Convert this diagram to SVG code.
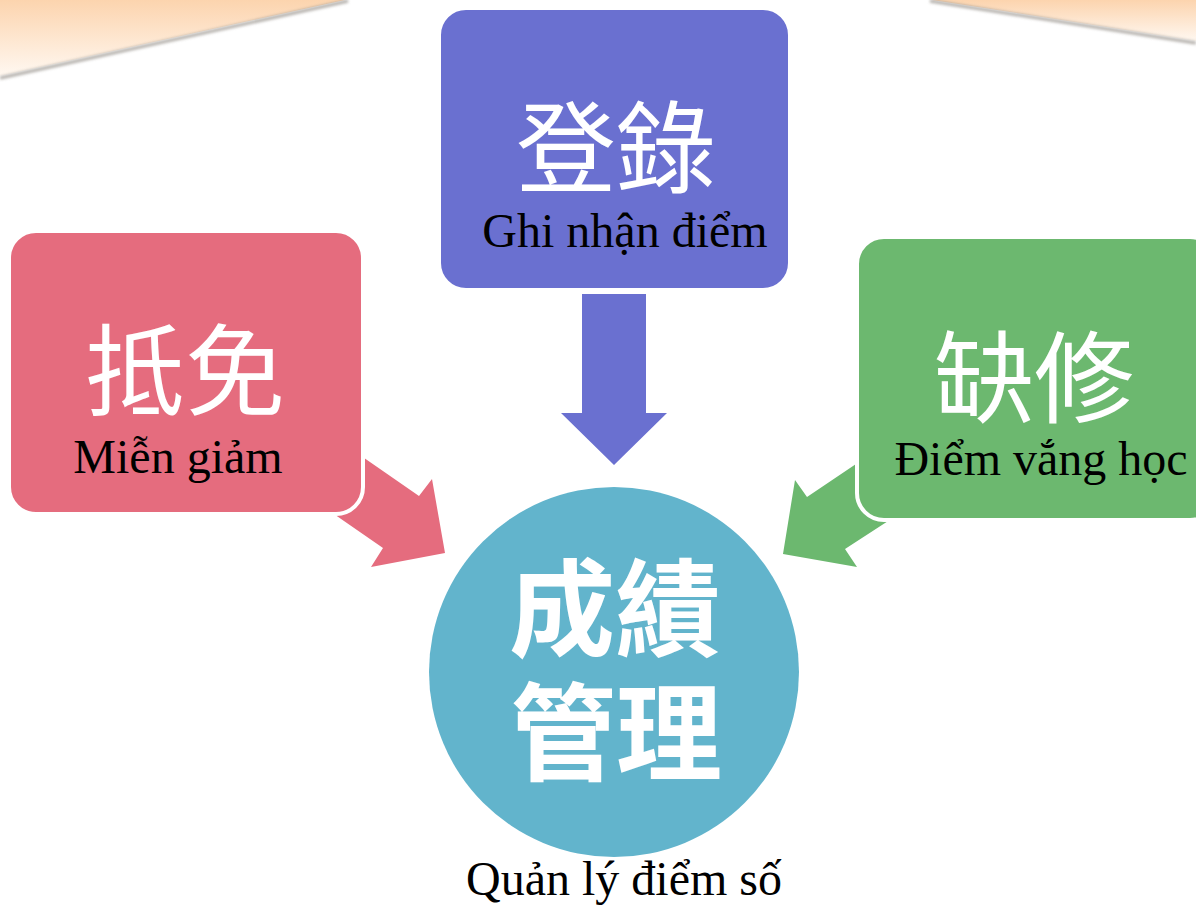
<svg xmlns="http://www.w3.org/2000/svg" width="1196" height="906" viewBox="0 0 1196 906">
  <defs>
    <linearGradient id="bgGrad" x1="0" y1="0" x2="0" y2="1">
      <stop offset="0" stop-color="#FCD4AE"/>
      <stop offset="1" stop-color="#FFF8F1"/>
    </linearGradient>
    <filter id="blur" x="-10%" y="-50%" width="120%" height="200%">
      <feGaussianBlur stdDeviation="1.6"/>
    </filter>
    <style>
      .box { stroke: #FFFFFF; stroke-width: 4; }
      .cjk { font-family: "Noto Sans CJK TC", "Noto Sans CJK SC", sans-serif; fill: #FFFFFF; text-anchor: middle; }
      .vn { font-family: "Liberation Serif", "Times New Roman", serif; font-size: 48px; fill: #000000; text-anchor: middle; }
    </style>
  </defs>

  <!-- background -->
  <rect x="0" y="0" width="1196" height="906" fill="#FFFFFF"/>
  <g id="background">
    <polygon points="0,0 345,0 0,76" fill="url(#bgGrad)"/>
    <polygon points="932,0 1196,0 1196,41" fill="url(#bgGrad)"/>
    <line x1="0" y1="78" x2="348" y2="1" stroke="#9A948E" stroke-width="3" filter="url(#blur)" opacity="0.8"/>
    <line x1="930" y1="1" x2="1196" y2="43" stroke="#9A948E" stroke-width="3" filter="url(#blur)" opacity="0.8"/>
  </g>

  <!-- connectors (block arrows) -->
  <g id="connectors">
    <polygon id="arrow-top" points="582,294 646,294 646,413 667,413 614,465 561,413 582,413" fill="#6A70D0"/>
    <polygon id="arrow-left" points="318,426 419,496 432,479 445,553 371,567 383,548 318,503" fill="#E56C7E"/>
    <polygon id="arrow-right" points="902,433 807,497 795,480 783,554 857,567 845,549 902,512" fill="#6CB86F"/>
  </g>

  <g id="node-top">
    <rect class="box" x="439" y="8" width="351" height="282" rx="27" fill="#6A70D0"/>
    <text class="cjk" x="616" y="185" font-size="100">登錄</text>
    <text class="vn" x="625" y="247">Ghi nhận điểm</text>
  </g>

  <g id="node-left">
    <rect class="box" x="9" y="231" width="354" height="283" rx="27" fill="#E56C7E"/>
    <text class="cjk" x="185" y="408" font-size="100">抵免</text>
    <text class="vn" x="178" y="473">Miễn giảm</text>
  </g>

  <g id="node-right">
    <rect class="box" x="857" y="237" width="360" height="283" rx="27" fill="#6CB86F"/>
    <text class="cjk" x="1034" y="415" font-size="100">缺修</text>
    <text class="vn" x="1041" y="475">Điểm vắng học</text>
  </g>

  <g id="node-center">
    <circle cx="614" cy="672" r="185" fill="#62B4CC"/>
    <text class="cjk" x="615" y="648" font-size="106" font-weight="bold">成績</text>
    <text class="cjk" x="616" y="772" font-size="106" font-weight="bold">管理</text>
    <text class="vn" x="624" y="895">Quản lý điểm số</text>
  </g>
</svg>
